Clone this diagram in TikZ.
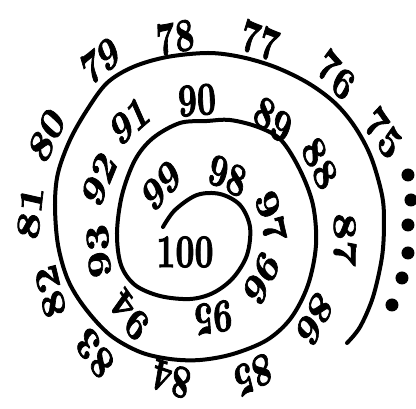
\documentclass[tikz,border=0pt]{standalone}
\usepackage{fontspec}
\usepackage{tikz}
\newfontfamily\numfont{lmroman10-bold.otf}[FakeBold=2]
\tikzset{
  num/.style={font=\fontsize{36}{36}\selectfont\numfont, inner sep=0pt, xscale=0.92, yscale=1.3},
  spiral/.style={line width=4pt, line cap=round, line join=round}
}

\begin{document}
\begin{tikzpicture}[x=1pt, y=1pt]
    \useasboundingbox (-205,-169) rectangle (211,240);
    % spiral, from the outer end inwards
    \draw[spiral] plot[smooth, tension=0.55] coordinates {
        (142,-103) (155,-87) (168,-57) (177,-17) (179,17) (177,45)
        (166,83) (150,113) (130,137) (103,157) (70,173) (36,183)
        (3,187) (-38,183) (-72,173) (-98,157) (-118,130) (-135,100)
        (-147,67) (-150,35) (-147,-5) (-137,-40) (-120,-68) (-95,-95)
        (-65,-112) (-35,-119) (-5,-120) (28,-114) (62,-100) (86,-78)
        (103,-45) (111,-5) (108,35) (95,70) (76,100) (53,113)
        (25,120) (2,119) (-25,117) (-52,102) (-70,80) (-83,45)
        (-88,7) (-84,-25) (-70,-45) (-45,-56) (-15,-59) (8,-53)
        (28,-38) (42,-15) (45,13) (35,35) (15,46) (-8,45)
        (-30,30) (-42,13)};
    % numbers, upright side facing outwards
    \foreach \n/\a/\r in {76/51.6/211, 77/74.6/207, 78/98.4/205,
            79/120.3/208, 80/146.4/190, 81/171/177, 82/198.5/163,
            83/225.8/158, 84/256.5/143, 85/289.6/143, 86/324.2/135,
            87/0/140, 88/33.8/138, 89/60.5/138, 90/93.3/140,
            91/122/141, 92/150/122, 93/186/107, 94/225/106,
            95/276/78, 96/326/68, 97/19/70, 98/70.7/68, 99/128.4/70}
        \node[num, rotate=\a-90] (n\n) at (\a:\r) {\n};
    \node[num, rotate=-45] (n75) at (31:208) {75};
    \node[num] (n100) at (-20,-12) {100};
    % dots on the right
    \foreach \p in {(203,65), (206,40), (203,15), (203,-13), (197,-38), (187,-65)}
        \fill \p circle (6.5pt);
\end{tikzpicture}
\end{document}
